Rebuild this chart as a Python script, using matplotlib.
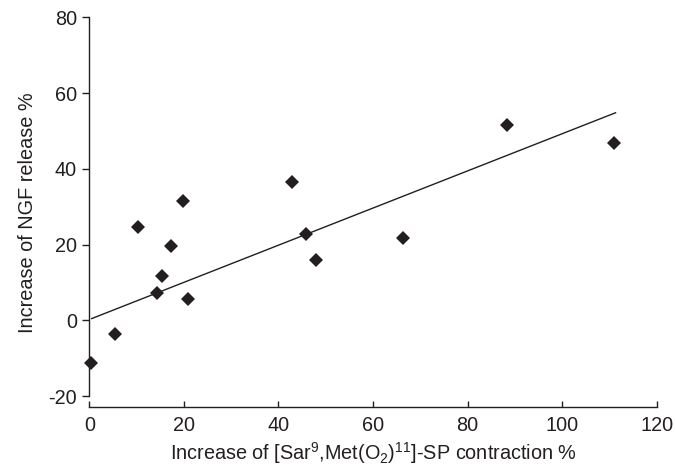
import matplotlib.pyplot as plt

plt.rcParams['font.family'] = ['Liberation Sans', 'DejaVu Sans']
plt.rcParams['mathtext.default'] = 'regular'
plt.rcParams['axes.unicode_minus'] = False

# Increase of [Sar9,Met(O2)11]-SP contraction %
contraction = [0.3, 5.4, 10.4, 14.3, 15.4, 17.2, 19.9, 20.9,
               42.8, 45.8, 48.0, 66.4, 88.3, 111.0]
# Increase of NGF release %
ngf_release = [-11.4, -3.5, 24.7, 7.3, 11.6, 19.6, 31.4, 5.5,
               36.6, 22.7, 15.9, 21.6, 51.5, 46.7]

# regression line end points
fit_x = [0.5, 111.3]
fit_y = [0.45, 54.8]

ink = '#231f20'

fig = plt.figure(figsize=(6.75, 4.68), dpi=100)
ax = fig.add_axes([0.1323, 0.1295, 0.8406, 0.8335])

ax.plot(fit_x, fit_y, color=ink, lw=1.0)
ax.plot(contraction, ngf_release, linestyle='none', marker='D',
        markersize=7.5, color=ink, markeredgewidth=0, clip_on=False)

ax.set_xlim(0, 120)
ax.set_ylim(-23, 80)
ax.set_xticks(range(0, 121, 20))
ax.set_yticks(range(-20, 81, 20))

for side in ['top', 'right']:
    ax.spines[side].set_visible(False)
ax.spines['left'].set_bounds(-20, 80)
for side in ['left', 'bottom']:
    ax.spines[side].set_color(ink)
    ax.spines[side].set_linewidth(1.0)

ax.tick_params(axis='y', direction='out', length=5, width=1.0,
               colors=ink, labelsize=14.3, pad=4)
ax.tick_params(axis='x', direction='in', length=4, width=1.0,
               colors=ink, labelsize=14.3, pad=6)

ax.set_xlabel(r'Increase of [Sar$^{9}$,Met(O$_{2}$)$^{11}$]-SP contraction %',
              fontsize=14.3, color=ink, labelpad=4)
ax.set_ylabel('Increase of NGF release %', fontsize=14.3, color=ink, labelpad=8)

fig.savefig('out.png', dpi=100)
